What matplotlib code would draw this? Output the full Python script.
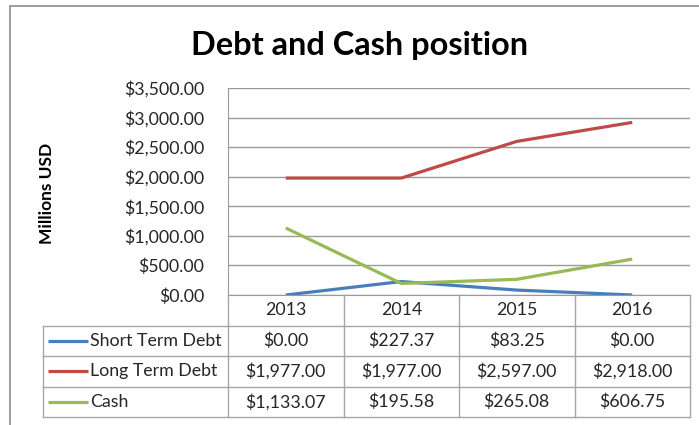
import matplotlib
matplotlib.use("Agg")
import matplotlib.pyplot as plt
from matplotlib.patches import Rectangle

years = ["2013", "2014", "2015", "2016"]
series_names = ["Short Term Debt", "Long Term Debt", "Cash"]
short_term_debt = [0.00, 227.37, 83.25, 0.00]
long_term_debt = [1977.00, 1977.00, 2597.00, 2918.00]
cash = [1133.07, 195.58, 265.08, 606.75]
y_ticks = [0, 500, 1000, 1500, 2000, 2500, 3000, 3500]

colors = ["#4A7EBB", "#BE4B48", "#98B954"]
series = [short_term_debt, long_term_debt, cash]

W, H = 699, 425
plt.rcParams['font.family'] = ['Lato', 'DejaVu Sans']
fig = plt.figure(figsize=(W / 100, H / 100), dpi=100)
FS = 12.8
TC = "#262626"

def fbox(l, t, r, b):
    return [l / W, (H - b) / H, (r - l) / W, (b - t) / H]

# outer border
fig.patches.append(Rectangle((10 / W, -0.1), 1.2, (H - 6) / H + 0.1,
                             transform=fig.transFigure, fill=False,
                             edgecolor="#8C8C8C", linewidth=1.2))

# main axes
ax = fig.add_axes(fbox(228, 88, 690, 295))
x = list(range(len(years)))
for s, c in zip(series, colors):
    ax.plot(x, s, color=c, linewidth=2.3, solid_capstyle="butt", zorder=3)
ax.set_xlim(-0.5, 3.5)
ax.set_ylim(0, 3500)
ax.set_yticks(y_ticks)
ax.set_yticklabels([f"${v:,.2f}" for v in y_ticks], fontsize=FS, color=TC)
ax.tick_params(axis="y", length=0, pad=17)
ax.set_xticks([])
for sp in ["top", "right"]:
    ax.spines[sp].set_visible(False)
ax.spines["left"].set_color("#9A9A9A")
ax.spines["bottom"].set_color("#9A9A9A")
ax.grid(axis="y", color="#9A9A9A", linewidth=1)
ax.set_axisbelow(True)

fig.text(360 / W, (H - 46) / H, "Debt and Cash position",
         fontsize=23.4, fontweight="bold", ha="center", va="center")
fig.text(47 / W, (H - 193) / H, "Millions USD", rotation=90, fontsize=12.5,
         fontweight="bold", ha="center", va="center")

# data table
col_w = 115.5
left_units = (228 - 43) / col_w
tx = fig.add_axes(fbox(43, 295, 690, 417))
tx.set_xlim(-0.5 - left_units, 3.5)
tx.set_ylim(4, 0)
tx.axis("off")
lc = "#A6A6A6"
xl = -0.5 - left_units
for xv in [-0.5, 0.5, 1.5, 2.5, 3.5]:
    tx.plot([xv, xv], [0, 4], color=lc, linewidth=1, clip_on=False)
tx.plot([xl, xl], [1, 4], color=lc, linewidth=1, clip_on=False)
for yv in [1, 2, 3, 4]:
    tx.plot([xl, 3.5], [yv, yv], color=lc, linewidth=1, clip_on=False)
for i, yr in enumerate(years):
    tx.text(i, 0.5, yr, ha="center", va="center", fontsize=FS, color=TC)
for r, (name, s, c) in enumerate(zip(series_names, series, colors)):
    yrow = r + 1.5
    tx.plot([xl + 5 / col_w, xl + 45 / col_w], [yrow, yrow], color=c,
            linewidth=2.3, solid_capstyle="butt", clip_on=False)
    tx.text(xl + 47 / col_w, yrow, name, ha="left", va="center", fontsize=FS,
            color=TC)
    for i, v in enumerate(s):
        tx.text(i, yrow, f"${v:,.2f}", ha="center", va="center", fontsize=FS,
                color=TC)

fig.savefig("out.png", dpi=100)
